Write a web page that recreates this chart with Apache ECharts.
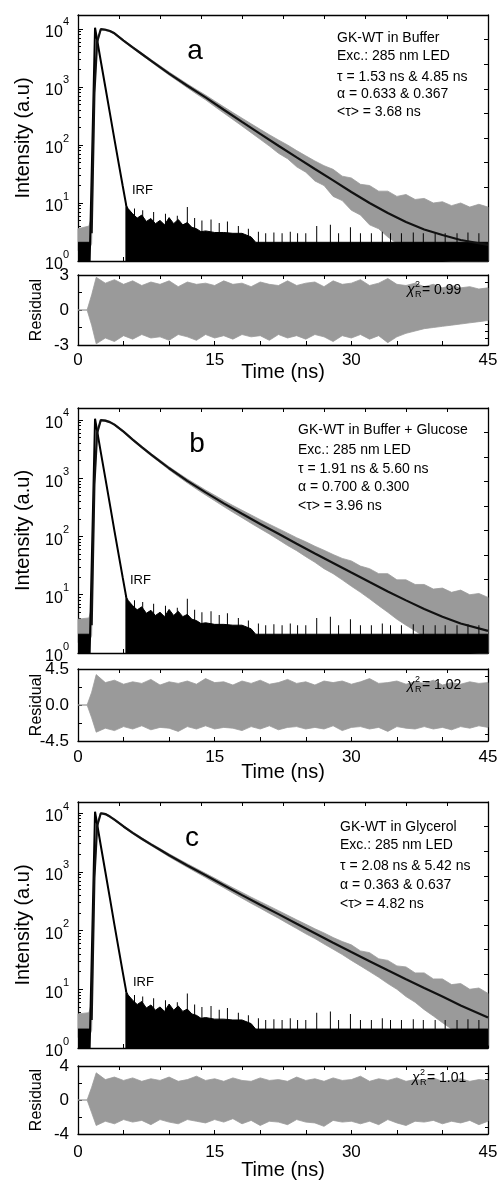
<!DOCTYPE html>
<html>
<head>
<meta charset="utf-8">
<title>Fluorescence decay of GK-WT</title>
<script src="https://cdn.jsdelivr.net/npm/echarts@6/dist/echarts.min.js"></script>
<style>
  html, body { margin: 0; padding: 0; background: #fff; }
  #chart { width: 499px; height: 1182px; }
</style>
</head>
<body>
<div id="chart"></div>
<script>
  const FONT = "'Liberation Sans', Arial, Helvetica, sans-serif";
  const GRAY = '#9a9a9a';

  // ---- fitted decay curves (counts vs ns)
  const fitT = [1.5, 1.8, 2.1, 2.5, 3, 3.5, 4, 5, 6, 7, 8, 9, 10, 12, 14, 16, 18, 20, 22, 24, 26, 28, 30, 32, 34, 36, 38, 40, 42, 45];
  const fitA = [3, 800, 6000, 9900, 9700, 9200, 8400, 6300, 4800, 3700, 2850, 2200, 1700, 1050, 660, 405, 250, 155, 97, 61, 38.5, 24.5, 15.5, 10, 6.7, 4.7, 3.5, 2.8, 2.3, 1.9];
  const fitB = [3, 800, 6000, 9900, 9700, 9150, 8300, 6300, 4600, 3400, 2550, 1950, 1480, 900, 570, 370, 245, 164, 111, 75, 51, 35, 24, 16.5, 11.4, 8, 5.7, 4.2, 3.2, 2.4];
  const fitC = [3, 800, 6000, 9900, 9600, 8700, 7700, 5900, 4600, 3650, 2930, 2370, 1910, 1280, 870, 590, 400, 275, 190, 130, 90, 62, 43, 30, 21, 14.8, 10.5, 7.5, 5.3, 3.3];

  // ---- measured decay (gray): spread of the noisy counts
  const grayT = [0, 1.2, 1.5, 1.8, 2.1, 2.5, 3, 3.5, 4, 5, 6, 7, 8, 9, 10, 11, 12, 13, 14, 15, 16, 17, 18, 19, 20, 21, 22, 23, 24, 25, 26, 27, 28, 29, 30, 31, 32, 33, 34, 35, 36, 37, 38, 39, 40, 41, 42, 43, 44, 45];
  const grayLowA = [1.5, 1.5, 2, 650, 5700, 9600, 9400, 8950, 8150, 6100, 4620, 3550, 2720, 2080, 1600, 1250, 970, 760, 600, 460, 355, 275, 212, 163, 125, 96, 72, 58, 42, 34, 24, 20, 13, 11, 7.5, 6.2, 4.2, 3.6, 2.6, 2, 1.6, 1.3, 1.1, 1.05, 1.02, 1.01, 1.01, 1.01, 1.01, 1.01];
  const grayHighA = [3.6, 4, 6, 900, 6300, 10200, 10000, 9450, 8650, 6500, 4980, 3860, 2990, 2320, 1810, 1430, 1130, 900, 725, 575, 455, 362, 290, 232, 186, 150, 122, 100, 80, 65, 53, 44, 38, 29, 27, 21, 20, 16, 16, 13, 14, 11.5, 12, 10, 10.5, 9, 10, 8.5, 9.5, 8.5];
  const grayLowB = [1.5, 1.5, 2, 650, 5700, 9600, 9400, 8900, 8050, 6100, 4430, 3260, 2430, 1850, 1390, 1070, 830, 650, 515, 410, 325, 260, 210, 168, 136, 110, 88, 70, 57, 45, 36, 28, 23, 18, 14, 11, 8.5, 6.5, 5, 3.8, 3, 2.4, 1.9, 1.5, 1.3, 1.15, 1.05, 1.02, 1.01, 1.01];
  const grayHighB = [3.8, 4, 6, 900, 6300, 10200, 10000, 9400, 8550, 6500, 4770, 3540, 2670, 2050, 1570, 1230, 970, 780, 625, 510, 415, 340, 282, 234, 194, 162, 136, 114, 95, 81, 68, 58, 49, 42, 38, 31, 28, 23, 23, 18, 18, 15, 15, 12.5, 13, 11, 12, 10, 10.5, 9];
  const grayLowC = [1.5, 1.5, 2, 650, 5700, 9600, 9300, 8450, 7460, 5700, 4430, 3500, 2800, 2250, 1800, 1460, 1190, 975, 800, 650, 535, 435, 355, 290, 240, 196, 162, 132, 108, 88, 73, 59, 48, 39, 31, 25, 20, 16, 12.5, 10, 7.5, 6, 4.5, 3.5, 2.7, 2.1, 1.7, 1.4, 1.2, 1.1];
  const grayHighC = [3.8, 4, 6, 900, 6300, 10200, 9900, 8950, 7940, 6100, 4770, 3800, 3060, 2490, 2020, 1660, 1370, 1135, 940, 780, 645, 535, 445, 370, 310, 260, 218, 182, 152, 128, 107, 91, 76, 65, 57, 45, 42, 33, 31, 25, 24, 19, 19, 15, 15, 12, 12.5, 10, 10.5, 8.5];

  // ---- instrument response function (black)
  const irfT = [1.28, 1.87, 2.5, 3, 3.5, 4, 4.5, 4.9, 5.3];
  const irfV = [1, 10500, 2800, 1000, 355, 125, 45, 20, 9];
  const irfPreT = [0, 1.3];
  const irfPreV = [2.1, 2.1];
  const irfTailT = [5.2, 5.5, 6, 6.5, 7, 7.5, 8, 8.5, 9, 9.5, 10, 10.5, 11, 11.5, 12, 12.5, 13, 13.5, 14, 15, 16, 17, 18, 19, 19.5, 45];
  const irfTailV = [10, 8, 6.5, 5.5, 6.2, 4.8, 5.4, 4.4, 5, 4.2, 5.6, 4.4, 5.2, 4.2, 4.6, 3.8, 3.6, 3.2, 3.3, 3.1, 3.1, 3, 3, 2.6, 2.1, 2.1];
  const spikeT = [6.2, 7.1, 8.3, 9.6, 10.9, 12.0, 12.8, 13.6, 14.6, 15.5, 16.4, 17.6, 18.7, 19.8, 20.6, 21.5, 22.4, 23.3, 24.1, 25.0, 26.2, 27.7, 28.6, 29.9, 31.0, 32.2, 33.4, 34.3, 35.5, 36.8, 37.9, 39.2, 40.3, 41.6, 42.8, 44.0];
  const spikeV = [8, 7.5, 7, 6.5, 6, 8.5, 5.5, 5, 5.2, 4.5, 4.8, 4, 3.6, 3.2, 3, 3.1, 3, 3.2, 3, 3, 4, 4.2, 3, 3.8, 3, 3, 3.2, 3, 3, 3.1, 3, 3, 3, 3, 3.1, 3];

  // ---- weighted residuals: upper / lower edge of the gray band
  const resT = [0, 1, 1.5, 2, 3, 4, 5, 6, 7, 8, 9, 10, 11, 12, 13, 14, 15, 16, 17, 18, 19, 20, 21, 22, 23, 24, 25, 26, 27, 28, 29, 30, 31, 32, 33, 34, 35, 36, 37, 38, 39, 40, 41, 42, 43, 44, 45];
  const resUpA = [0, 0, 1.3, 2.8, 2.3, 2.6, 2.2, 2.5, 2.1, 2.4, 2.2, 2.5, 2.0, 2.4, 2.2, 2.3, 2.1, 2.5, 2.2, 2.3, 2.0, 2.4, 2.2, 2.1, 2.5, 2.1, 2.3, 2.4, 2.0, 2.5, 2.2, 2.3, 2.6, 2.1, 2.3, 2.7, 2.2, 2.1, 2.3, 2.0, 2.2, 1.9, 2.1, 1.9, 2.0, 1.8, 1.9];
  const resLoA = [0, 0, -1.3, -2.9, -2.4, -2.7, -2.2, -2.5, -2.1, -2.4, -2.3, -2.6, -2.1, -2.3, -2.6, -2.1, -2.4, -2.2, -2.5, -2.1, -2.3, -2.2, -2.6, -2.1, -2.4, -2.2, -2.5, -2.1, -2.3, -2.7, -2.2, -2.4, -2.1, -2.5, -2.2, -2.8, -2.3, -2.0, -1.8, -1.6, -1.5, -1.4, -1.3, -1.2, -1.1, -1.0, -0.9];
  const resUpB = [0, 0, 1.6, 3.8, 2.8, 3.1, 2.6, 2.9, 2.7, 3.2, 2.5, 2.9, 2.7, 3.0, 2.6, 3.3, 2.8, 2.9, 2.5, 3.0, 2.7, 3.1, 2.6, 2.8, 3.2, 2.7, 2.9, 2.5, 3.0, 2.8, 3.0, 2.6, 2.9, 3.3, 2.7, 2.8, 3.0, 2.6, 2.9, 2.7, 3.1, 2.5, 2.8, 2.6, 2.9, 2.7, 2.8];
  const resLoB = [0, 0, -1.6, -3.4, -2.9, -3.2, -2.7, -3.0, -2.6, -3.1, -2.8, -2.9, -3.3, -2.7, -3.0, -2.6, -3.0, -2.8, -2.9, -3.2, -2.7, -3.0, -2.6, -3.1, -2.8, -2.7, -3.0, -2.8, -3.0, -2.6, -3.2, -2.8, -2.7, -3.0, -2.8, -3.3, -2.7, -2.9, -3.0, -2.7, -3.0, -2.8, -3.1, -2.7, -2.9, -2.6, -2.8];
  const resUpC = [0, 0, 1.5, 3.2, 2.4, 2.7, 2.3, 2.6, 2.2, 2.5, 2.3, 2.7, 2.2, 2.4, 2.8, 2.3, 2.5, 2.2, 2.6, 2.3, 2.2, 2.6, 2.3, 2.4, 2.2, 2.7, 2.3, 2.5, 2.2, 2.6, 2.3, 2.4, 2.8, 2.2, 2.5, 2.3, 2.6, 2.2, 2.4, 2.3, 2.6, 2.2, 2.3, 2.5, 2.2, 2.4, 2.3];
  const resLoC = [0, 0, -1.5, -3.0, -2.5, -2.8, -2.3, -2.6, -2.4, -2.9, -2.3, -2.6, -2.8, -2.3, -2.5, -2.7, -2.3, -2.6, -2.2, -2.8, -2.4, -3.0, -2.5, -2.6, -2.9, -2.3, -2.6, -2.7, -3.1, -2.4, -2.6, -2.5, -2.8, -2.5, -2.9, -2.3, -2.7, -3.0, -2.5, -2.6, -2.4, -2.8, -2.5, -2.7, -2.4, -2.9, -2.5];

  // ---- texts and tick labels
  const timeLabels = [0, 15, 30, 45];
  const notesA = ['GK-WT in Buffer', 'Exc.: 285 nm LED', 'τ = 1.53 ns & 4.85 ns', 'α = 0.633 & 0.367', '<τ> = 3.68 ns'];
  const notesB = ['GK-WT in Buffer + Glucose', 'Exc.: 285 nm LED', 'τ = 1.91 ns & 5.60 ns', 'α = 0.700 & 0.300', '<τ> = 3.96 ns'];
  const notesC = ['GK-WT in Glycerol', 'Exc.: 285 nm LED', 'τ = 2.08 ns & 5.42 ns', 'α = 0.363 & 0.637', '<τ> = 4.82 ns'];

  const panelData = [
    { letter: 'a', chi: '0.99', notes: notesA, fit: fitA, low: grayLowA, high: grayHighA, resUp: resUpA, resLo: resLoA },
    { letter: 'b', chi: '1.02', notes: notesB, fit: fitB, low: grayLowB, high: grayHighB, resUp: resUpB, resLo: resLoB },
    { letter: 'c', chi: '1.01', notes: notesC, fit: fitC, low: grayLowC, high: grayHighC, resUp: resUpC, resLo: resLoC }
  ];

  // pixel layout of each panel
  const layout = [
    { logTop: 15, logH: 246, resTop: 275, resH: 70, yMax: 17400, resMax: 3, resDigits: 0, timeGap: 17, labelMargin: 7,
      letter: [195, 51], textX: 337, textY: [38, 56, 77, 94, 112], chi: [407, 290], irf: [132, 190] },
    { logTop: 408, logH: 245, resTop: 669, resH: 72, yMax: 16000, resMax: 4.5, resDigits: 1, timeGap: 21, labelMargin: 8,
      letter: [197, 444], textX: 298, textY: [430, 450, 469, 487, 506], chi: [407, 685], irf: [130, 580] },
    { logTop: 802, logH: 246, resTop: 1066, resH: 68, yMax: 15400, resMax: 4, resDigits: 0, timeGap: 26, labelMargin: 10,
      letter: [192, 838], textX: 340, textY: [827, 845, 866, 885, 904], chi: [412, 1078], irf: [133, 982] }
  ];

  const pairs = (xs, ys) => xs.map((x, i) => [x, ys[i]]);
  const frame = { color: '#000', width: 1.3 };

  function plainAxis(gridIndex, position, extra) {
    return Object.assign({
      type: 'value', gridIndex: gridIndex, position: position,
      axisLine: { show: true, onZero: false, lineStyle: frame },
      axisTick: { show: true, inside: true, length: 4, lineStyle: { color: '#000', width: 1 } },
      axisLabel: { show: false },
      splitLine: { show: false }
    }, extra);
  }

  // filled band between two edges, drawn as one polygon through the axis scales
  function bandSeries(xIdx, yIdx, ts, lo, hi, color) {
    return {
      type: 'custom', xAxisIndex: xIdx, yAxisIndex: yIdx, silent: true, animation: false,
      data: ts.map((t, i) => [t, lo[i], hi[i]]),
      encode: { x: 0, y: [1, 2] },
      renderItem: (params, api) => {
        if (params.dataIndex !== 0) return null;
        const top = ts.map((t, i) => api.coord([t, hi[i]]));
        const bottom = ts.map((t, i) => api.coord([t, lo[i]])).reverse();
        return {
          type: 'polygon',
          shape: { points: top.concat(bottom) },
          style: { fill: color, stroke: color, lineWidth: 0.8 }
        };
      }
    };
  }

  const grids = [], xAxes = [], yAxes = [], series = [], graphics = [];

  panelData.forEach((pd, p) => {
    const L = layout[p];
    const gLog = grids.length;
    grids.push({ left: 78, right: 11, top: L.logTop, height: L.logH, outerBoundsMode: 'none' });
    const gRes = grids.length;
    grids.push({ left: 78, right: 11, top: L.resTop, height: L.resH, outerBoundsMode: 'none' });

    // x axes
    const xLog = xAxes.length;
    xAxes.push(plainAxis(gLog, 'bottom', { min: 0, max: 45, interval: 5 }));
    xAxes.push(plainAxis(gLog, 'top', { min: 0, max: 45, interval: 4.5 }));
    const xRes = xAxes.length;
    xAxes.push(plainAxis(gRes, 'bottom', {
      min: 0, max: 45, interval: 5,
      axisLabel: {
        show: true, margin: L.labelMargin, color: '#000', fontSize: 17, fontFamily: FONT,
        formatter: v => (timeLabels.indexOf(v) >= 0 ? String(v) : '')
      },
      name: 'Time (ns)', nameLocation: 'middle', nameGap: L.timeGap, nameMoveOverlap: false,
      nameTextStyle: { color: '#000', fontSize: 20, fontFamily: FONT }
    }));
    xAxes.push(plainAxis(gRes, 'top', { min: 0, max: 45, interval: 4.5 }));

    // y axes
    const yLog = yAxes.length;
    yAxes.push({
      type: 'log', logBase: 10, gridIndex: gLog, position: 'left', min: 1, max: L.yMax,
      axisLine: { show: true, onZero: false, lineStyle: frame },
      axisTick: { show: true, inside: true, length: 5, lineStyle: { color: '#000', width: 1 } },
      axisLabel: {
        margin: 9, color: '#000', fontFamily: FONT, showMaxLabel: false,
        formatter: v => {
          const e = Math.round(Math.log10(v));
          if (Math.abs(Math.log10(v) - e) > 1e-6) return '';
          return '{b|10}{s|' + e + '}';
        },
        rich: {
          b: { fontSize: 16, lineHeight: 24, verticalAlign: 'bottom', fontFamily: FONT, color: '#000' },
          s: { fontSize: 11, lineHeight: 12, verticalAlign: 'top', fontFamily: FONT, color: '#000' }
        }
      },
      splitLine: { show: false },
      name: 'Intensity (a.u)', nameLocation: 'middle', nameGap: 45, nameMoveOverlap: false,
      nameTextStyle: { color: '#000', fontSize: 20, fontFamily: FONT }
    });
    const logMax = Math.log10(L.yMax);
    const minor = [];
    for (let n = 0; n < 5; n++) {
      for (let k = 2; k <= 9; k++) {
        const v = n + Math.log10(k);
        if (v < logMax) minor.push(v);
      }
    }
    yAxes.push(plainAxis(gLog, 'left', {
      min: 0, max: logMax,
      axisLine: { show: false, onZero: false },
      axisTick: { show: true, inside: true, length: 3, customValues: minor, lineStyle: { color: '#000', width: 1 } }
    }));
    yAxes.push(plainAxis(gLog, 'right', { min: 0, max: 10, interval: 1 }));

    const yRes = yAxes.length;
    const R = L.resMax;
    yAxes.push(plainAxis(gRes, 'left', {
      min: -R, max: R, interval: R / 2,
      axisLabel: {
        show: true, margin: 9, color: '#000', fontSize: 17, fontFamily: FONT,
        formatter: v => (Math.abs(v % R) < 1e-9 ? v.toFixed(L.resDigits) : '')
      },
      name: 'Residual', nameLocation: 'middle', nameGap: 33, nameMoveOverlap: false,
      nameTextStyle: { color: '#000', fontSize: 16, fontFamily: FONT }
    }));
    yAxes.push(plainAxis(gRes, 'right', { min: 0, max: 10, interval: 1, axisTick: { show: true, inside: true, length: 3, lineStyle: { color: '#000', width: 1 } } }));

    // measured decay
    series.push(bandSeries(xLog, yLog, grayT, pd.low, pd.high, GRAY));
    // IRF
    const onLog = { xAxisIndex: xLog, yAxisIndex: yLog, symbol: 'none', silent: true, animation: false };
    series.push(Object.assign({
      type: 'line', data: pairs(irfPreT, irfPreV),
      lineStyle: { color: '#000', width: 1 },
      areaStyle: { color: '#000', opacity: 1, origin: 'start' }
    }, onLog));
    series.push(Object.assign({
      type: 'line', data: pairs(irfTailT, irfTailV),
      lineStyle: { color: '#000', width: 1 },
      areaStyle: { color: '#000', opacity: 1, origin: 'start' }
    }, onLog));
    series.push({
      type: 'bar', xAxisIndex: xLog, yAxisIndex: yLog, silent: true, animation: false,
      data: pairs(spikeT, spikeV), barWidth: 1, itemStyle: { color: '#000' }
    });
    series.push(Object.assign({
      type: 'line', data: pairs(irfT, irfV),
      lineStyle: { color: '#000', width: 2 }
    }, onLog));
    // fit
    series.push(Object.assign({
      type: 'line', data: pairs(fitT, pd.fit),
      lineStyle: { color: '#111', width: 2.2 }
    }, onLog));

    // residuals
    series.push(bandSeries(xRes, yRes, resT, pd.resLo, pd.resUp, GRAY));

    // annotations
    const txt = (x, y, text, size, extra) => graphics.push({
      type: 'text', x: x, y: y, silent: true, z: 100,
      style: Object.assign({
        text: text, fill: '#000', font: size + 'px ' + FONT,
        textAlign: 'left', textVerticalAlign: 'middle', align: 'left', verticalAlign: 'middle'
      }, extra || {})
    });
    txt(L.letter[0], L.letter[1], pd.letter, 28, { textAlign: 'center', align: 'center' });
    pd.notes.forEach((line, i) => txt(L.textX, L.textY[i], line, 14));
    txt(L.irf[0], L.irf[1], 'IRF', 13);
    txt(L.chi[0], L.chi[1], 'χ', 14, { font: 'italic 14px ' + FONT });
    txt(L.chi[0] + 8, L.chi[1] - 5, '2', 9);
    txt(L.chi[0] + 8, L.chi[1] + 5, 'R', 9);
    txt(L.chi[0] + 15, L.chi[1], '= ' + pd.chi, 14);
  });

  const chart = echarts.init(document.getElementById('chart'), null, { renderer: 'canvas' });
  chart.setOption({
    animation: false,
    backgroundColor: '#fff',
    textStyle: { fontFamily: FONT },
    grid: grids,
    xAxis: xAxes,
    yAxis: yAxes,
    series: series,
    graphic: graphics
  });
</script>
</body>
</html>
